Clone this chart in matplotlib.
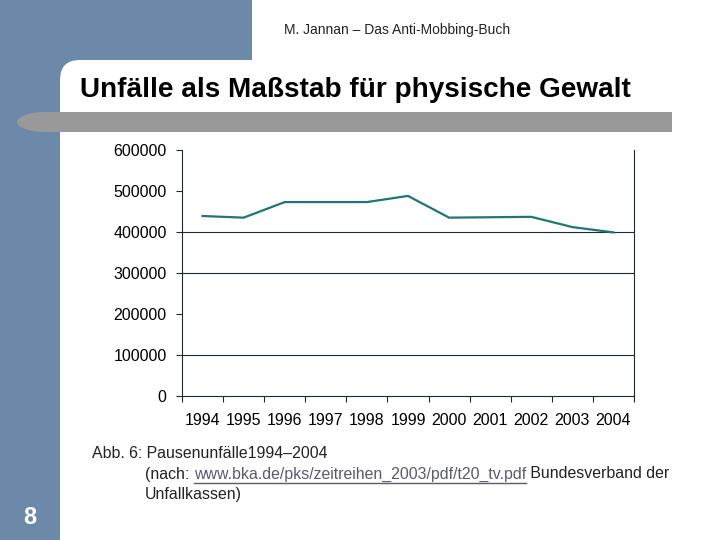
import matplotlib
matplotlib.use("Agg")
import matplotlib.pyplot as plt
from matplotlib.patches import Rectangle, FancyBboxPatch, Ellipse

years = ["1994", "1995", "1996", "1997", "1998", "1999", "2000", "2001", "2002", "2003", "2004"]
unfaelle = [439000, 435000, 473000, 473000, 473000, 488000, 435000, 436000, 437000, 412000, 399000]
y_ticks = [0, 100000, 200000, 300000, 400000, 500000, 600000]
grid_values = [100000, 300000, 400000]

header = "M. Jannan – Das Anti-Mobbing-Buch"
title = "Unfälle als Maßstab für physische Gewalt"
caption1 = "Abb. 6: Pausenunfälle1994–2004"
caption2a = "(nach: "
caption2_link = "www.bka.de/pks/zeitreihen_2003/pdf/t20_tv.pdf"
caption2b = " Bundesverband der"
caption3 = "Unfallkassen)"
page = "8"

W, H = 720, 540
fig = plt.figure(figsize=(7.2, 5.4), dpi=100)
fig.patch.set_facecolor("white")

# background decoration in pixel coordinates
bg = fig.add_axes([0, 0, 1, 1], zorder=0)
bg.set_xlim(0, W)
bg.set_ylim(H, 0)
bg.axis("off")
blue = "#6c89a9"
bg.add_patch(Rectangle((0, 0), 252, 80, color=blue, lw=0))
bg.add_patch(Rectangle((0, 0), 60, H, color=blue, lw=0))
bg.add_patch(FancyBboxPatch((60, 60), 800, 800,
                            boxstyle="round,pad=0,rounding_size=20",
                            color="white", lw=0))
gray = "#999999"
bg.add_patch(Ellipse((46, 122), 58, 20, color=gray, lw=0))
bg.add_patch(Rectangle((46, 112), 626, 20, color=gray, lw=0))

font = "Liberation Sans"
bg.text(397, 30, header, fontsize=10, family=font, color="#222222",
        ha="center", va="center")
bg.text(80, 90, title, fontsize=20.1, family=font, weight="bold",
        color="black", ha="left", va="center")
bg.text(30, 518, page, fontsize=17, family=font, weight="bold",
        color="white", ha="center", va="center")

cap_size = 11.4
bg.text(92, 453, caption1, fontsize=cap_size, family=font, color="#222222",
        ha="left", va="center")
t_a = bg.text(145, 474, caption2a, fontsize=cap_size, family=font, color="#222222",
              ha="left", va="center")
fig.canvas.draw()
r = fig.canvas.get_renderer()
inv = bg.transData.inverted()
ext = t_a.get_window_extent(r)
x1 = inv.transform((ext.x1, ext.y0))[0]
link_color = "#5a5a70"
t_l = bg.text(x1, 474, caption2_link, fontsize=cap_size, family=font,
              color=link_color, ha="left", va="center")
ext = t_l.get_window_extent(r)
lx0 = inv.transform((ext.x0, ext.y0))[0]
lx1 = inv.transform((ext.x1, ext.y0))[0]
bg.plot([lx0, lx1], [482.5, 482.5], color=link_color, lw=1.0)
bg.text(lx1, 474, caption2b, fontsize=cap_size, family=font, color="#222222",
        ha="left", va="center")
bg.text(145, 495, caption3, fontsize=cap_size, family=font, color="#222222",
        ha="left", va="center")

# chart
left, right, top, bottom = 182, 634, 150, 396
ax = fig.add_axes([left / W, 1 - bottom / H, (right - left) / W, (bottom - top) / H],
                  zorder=2)
ax.patch.set_alpha(0)
n = len(years)
xs = [i + 0.5 for i in range(n)]
ax.plot(xs, unfaelle, color="#1f7676", lw=1.6, solid_joinstyle="miter")
ax.set_xlim(0, n)
ax.set_ylim(0, 600000)
axis_col = "#1c2833"
for v in grid_values:
    ax.axhline(v, color=axis_col, lw=0.8, zorder=1)
for s in ["left", "right", "bottom"]:
    ax.spines[s].set_color(axis_col)
    ax.spines[s].set_linewidth(0.8)
ax.spines["top"].set_visible(False)
ax.set_yticks(y_ticks)
ax.set_yticklabels([str(v) for v in y_ticks])
ax.set_xticks(range(n + 1))
ax.set_xticklabels([])
ax.set_xticks(xs, minor=True)
ax.set_xticklabels(years, minor=True)
ax.tick_params(axis="x", which="major", length=4, width=0.8, color=axis_col, direction="out")
ax.tick_params(axis="x", which="minor", length=0, pad=12)
ax.tick_params(axis="y", length=4, width=0.8, color=axis_col, pad=7)
for lab in ax.get_yticklabels() + ax.get_xticklabels(minor=True):
    lab.set_fontfamily(font)
    lab.set_fontsize(11.5)
    lab.set_color("black")

fig.savefig("out.png", dpi=100)
